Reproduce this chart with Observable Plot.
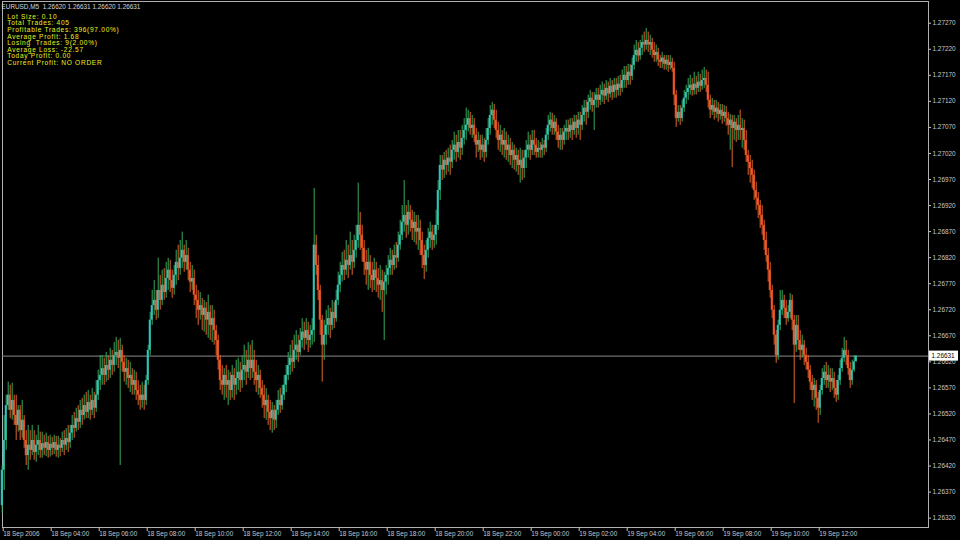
<!DOCTYPE html>
<html><head><meta charset="utf-8">
<script src="https://cdn.jsdelivr.net/npm/d3@7"></script>
<script src="https://cdn.jsdelivr.net/npm/@observablehq/plot@0.6"></script>
<style>html,body{margin:0;padding:0;background:#000;} #chart svg{display:block;}</style>
</head><body><div id="chart"></div>
<script>
// prices are stored as 1e-5 units above 1.26000 (EURUSD M5 bars)
const base = 1.26, unit = 0.00001;
const O = [
344,412,469,536,556,527,546,517,498,527,
488,508,469,440,460,450,469,446,460,469,
450,463,454,465,450,462,454,465,450,460,
454,469,460,473,465,483,498,492,511,504,
527,517,536,523,542,527,546,531,556,584,
594,607,594,613,604,623,613,632,638,627,
642,619,600,607,588,594,575,584,565,556,
546,556,546,584,642,700,728,738,719,757,
738,767,753,780,796,776,761,786,811,799,
819,834,811,824,796,773,780,748,738,719,
728,709,723,700,715,690,703,680,661,623,
584,575,594,575,584,565,594,575,588,600,
584,604,613,600,623,607,623,600,584,594,
569,556,536,546,523,511,527,508,527,546,
536,556,575,594,613,627,619,642,652,638,
661,677,665,680,661,671,680,844,805,757,
700,652,671,690,703,690,715,703,738,767,
786,805,796,815,805,824,811,834,853,882,
863,838,811,796,811,786,776,796,780,767,
776,757,773,786,799,815,805,824,819,844,
863,888,901,882,907,892,876,888,869,876,
853,824,805,834,857,869,853,863,882,949,
997,988,1007,997,1011,1003,1026,1036,1022,1041,
1030,1049,1064,1074,1087,1068,1074,1055,1036,1045,
1026,1036,1022,1045,1068,1093,1103,1084,1064,1045,
1055,1036,1045,1026,1036,1016,1026,1007,1016,997,
1007,991,1011,1026,1036,1026,1045,1036,1022,1030,
1026,1036,1030,1055,1074,1084,1068,1080,1061,1045,
1055,1045,1061,1068,1061,1074,1064,1080,1068,1084,
1074,1093,1107,1099,1118,1126,1112,1122,1132,1122,
1132,1141,1130,1145,1134,1149,1137,1151,1141,1153,
1145,1160,1170,1160,1176,1168,1189,1208,1218,1207,
1222,1233,1228,1237,1228,1233,1218,1208,1214,1199,
1195,1203,1191,1199,1189,1195,1183,1132,1087,1099,
1087,1107,1126,1137,1145,1151,1141,1153,1145,1157,
1149,1160,1164,1151,1122,1103,1112,1099,1107,1095,
1103,1091,1099,1087,1074,1084,1068,1080,1064,1074,
1064,1068,1045,1016,1003,991,978,949,934,920,
901,882,853,824,796,757,719,671,632,690,
719,738,723,703,715,738,700,652,690,661,
642,652,632,619,604,581,565,575,550,531,
565,588,600,584,594,581,588,569,556,584,
607,627,642,632,607,584,604,620];
const H = [
421,517,556,581,575,579,556,556,536,536,
546,517,488,498,488,498,488,479,498,485,
485,479,483,477,479,475,479,477,477,473,
485,488,492,498,498,517,523,531,536,546,
550,556,561,565,556,569,561,584,604,632,
632,627,638,632,646,642,657,667,661,665,
652,632,627,623,619,607,604,600,584,575,
581,575,594,652,715,757,776,757,819,786,
796,799,811,819,815,796,805,834,844,853,
869,844,853,838,811,805,796,767,757,753,
742,738,734,748,728,728,719,690,671,632,
613,607,613,604,600,613,607,623,627,619,
632,652,642,657,652,661,642,623,613,604,
584,575,569,556,546,542,536,546,565,569,
575,594,613,638,652,661,671,680,671,684,
703,696,703,696,690,703,953,863,824,767,
709,700,719,728,723,738,734,757,792,811,
830,834,853,844,869,853,863,882,963,907,
882,853,834,838,824,811,819,811,799,805,
796,792,805,824,838,834,844,849,869,892,
920,968,920,930,920,911,907,901,901,892,
869,844,853,876,888,882,882,911,968,1016,
1016,1022,1026,1030,1036,1045,1061,1055,1064,1064,
1074,1087,1107,1103,1099,1093,1087,1068,1061,1055,
1055,1049,1068,1087,1112,1118,1114,1103,1080,1074,
1064,1068,1061,1055,1049,1041,1036,1030,1026,1030,
1026,1026,1045,1061,1055,1064,1064,1049,1045,1041,
1049,1045,1068,1093,1099,1097,1093,1087,1074,1068,
1068,1074,1084,1084,1087,1087,1093,1093,1099,1099,
1112,1122,1122,1132,1141,1137,1137,1145,1145,1151,
1157,1153,1160,1157,1164,1160,1164,1164,1168,1170,
1180,1187,1187,1191,1191,1203,1228,1237,1233,1237,
1247,1253,1260,1253,1247,1241,1233,1228,1222,1208,
1214,1208,1208,1208,1208,1203,1195,1141,1112,1112,
1122,1141,1151,1164,1170,1164,1176,1168,1176,1172,
1180,1185,1180,1176,1132,1126,1122,1122,1118,1114,
1114,1112,1110,1099,1095,1093,1093,1087,1093,1103,
1087,1084,1064,1026,1016,1007,988,965,945,930,
920,892,869,838,811,767,728,680,700,757,
757,748,738,728,751,748,709,709,709,680,
671,661,646,632,613,594,588,584,561,575,
607,613,619,613,607,607,600,584,594,623,
646,667,661,642,619,623,632,631];
const L = [
329,373,450,527,511,508,498,469,485,469,
473,454,421,412,431,440,431,427,440,435,
435,440,438,435,437,440,442,437,435,438,
446,440,450,446,454,469,473,485,488,492,
498,508,511,511,508,517,511,523,546,565,
575,575,581,584,588,594,600,613,607,421,
600,581,575,569,561,556,556,546,536,527,
531,527,536,575,632,690,709,700,703,719,
728,738,742,757,753,742,748,767,776,786,
799,792,796,776,753,757,728,703,690,700,
680,677,671,665,661,657,652,632,604,565,
556,546,550,536,546,550,546,556,565,561,
569,584,575,588,584,588,575,561,556,550,
531,511,508,498,488,483,488,492,517,521,
527,546,561,584,594,600,607,623,619,632,
646,642,652,638,646,652,657,786,738,671,
581,623,652,671,665,680,684,696,728,753,
773,776,786,780,796,786,799,819,838,834,
811,786,767,757,761,753,757,753,742,738,
715,661,748,767,786,786,796,799,811,834,
853,869,857,863,869,853,849,844,834,824,
799,778,792,819,838,834,838,844,872,930,
968,972,978,984,978,991,1007,1003,1011,1007,
1016,1036,1045,1061,1055,1049,1041,1011,1022,1007,
1011,1003,1011,1036,1055,1074,1068,1049,1026,1022,
1016,1011,1007,1003,997,991,988,984,978,963,
968,972,991,1011,1007,1016,1016,1011,1011,1011,
1011,1016,1022,1045,1061,1055,1055,1045,1030,1026,
1026,1036,1045,1045,1049,1045,1055,1049,1055,1045,
1064,1080,1074,1087,1103,1099,1064,1107,1107,1112,
1118,1114,1122,1118,1126,1122,1126,1126,1130,1130,
1137,1145,1145,1151,1151,1160,1180,1195,1195,1199,
1208,1214,1218,1214,1208,1203,1195,1195,1187,1183,
1183,1180,1180,1176,1180,1176,1112,1070,1080,1074,
1080,1099,1114,1122,1132,1130,1132,1132,1137,1137,
1141,1145,1137,1107,1087,1093,1084,1087,1080,1084,
1076,1080,1072,1055,1026,993,1045,1041,1045,1045,
1030,1026,1003,978,963,953,930,911,895,876,
863,834,811,773,742,703,652,617,623,680,
709,703,690,696,703,680,540,638,642,623,
627,613,604,588,565,546,533,527,502,517,
556,575,569,569,561,565,550,542,546,575,
600,619,613,594,569,575,600,620];
const C = [
412,469,536,556,527,546,517,498,527,488,
508,469,440,460,450,469,446,460,469,450,
463,454,465,450,462,454,465,450,460,454,
469,460,473,465,483,498,492,511,504,527,
517,536,523,542,527,546,531,556,584,594,
607,594,613,604,623,613,632,638,627,642,
619,600,607,588,594,575,584,565,556,546,
556,546,584,642,700,728,738,719,757,738,
767,753,780,796,776,761,786,811,799,819,
834,811,824,796,773,780,748,738,719,728,
709,723,700,715,690,703,680,661,623,584,
575,594,575,584,565,594,575,588,600,584,
604,613,600,623,607,623,600,584,594,569,
556,536,546,523,511,527,508,527,546,536,
556,575,594,613,627,619,642,652,638,661,
677,665,680,661,671,680,844,805,757,700,
652,671,690,703,690,715,703,738,767,786,
805,796,815,805,824,811,834,853,882,863,
838,811,796,811,786,776,796,780,767,776,
757,773,786,799,815,805,824,819,844,863,
888,901,882,907,892,876,888,869,876,853,
824,805,834,857,869,853,863,882,949,997,
988,1007,997,1011,1003,1026,1036,1022,1041,1030,
1049,1064,1074,1087,1068,1074,1055,1036,1045,1026,
1036,1022,1045,1068,1093,1103,1084,1064,1045,1055,
1036,1045,1026,1036,1016,1026,1007,1016,997,1007,
991,1011,1026,1036,1026,1045,1036,1022,1030,1026,
1036,1030,1055,1074,1084,1068,1080,1061,1045,1055,
1045,1061,1068,1061,1074,1064,1080,1068,1084,1074,
1093,1107,1099,1118,1126,1112,1122,1132,1122,1132,
1141,1130,1145,1134,1149,1137,1151,1141,1153,1145,
1160,1170,1160,1176,1168,1189,1208,1218,1207,1222,
1233,1228,1237,1228,1233,1218,1208,1214,1199,1195,
1203,1191,1199,1189,1195,1183,1132,1087,1099,1087,
1107,1126,1137,1145,1151,1141,1153,1145,1157,1149,
1160,1164,1151,1122,1103,1112,1099,1107,1095,1103,
1091,1099,1087,1074,1084,1068,1080,1064,1074,1064,
1068,1045,1016,1003,991,978,949,934,920,901,
882,853,824,796,757,719,671,632,690,719,
738,723,703,715,738,700,652,690,661,642,
652,632,619,604,581,565,575,550,531,565,
588,600,584,594,581,588,569,556,584,607,
627,642,632,607,584,604,620,631];

const xLabels = ["18 Sep 2006","18 Sep 04:00","18 Sep 06:00","18 Sep 08:00","18 Sep 10:00","18 Sep 12:00",
  "18 Sep 14:00","18 Sep 16:00","18 Sep 18:00","18 Sep 20:00","18 Sep 22:00","19 Sep 00:00",
  "19 Sep 02:00","19 Sep 04:00","19 Sep 06:00","19 Sep 08:00","19 Sep 10:00","19 Sep 12:00"];
const barsPerLabel = 24; // one label every 2 hours of 5-minute bars
const yTicks = [1.2632,1.2637,1.2642,1.2647,1.2652,1.2657,1.2662,1.2667,1.2672,1.2677,
  1.2682,1.2687,1.2692,1.2697,1.2702,1.2707,1.2712,1.2717,1.2722,1.2727];
const header = "EURUSD,M5  1.26620 1.26631 1.26620 1.26631";
const infoLines = ["Lot Size: 0.10","Total Trades: 405","Profitable Trades: 396(97.00%)","Average Profit: 1.68",
  "Losing  Trades: 9(2.00%)","Average Loss: -22.57","Today Profit: 0.00","Current Profit: NO ORDER"];
const lastPrice = 1.26631;

const n = Math.min(O.length, H.length, L.length, C.length);
const bars = [];
for (let i = 0; i < n; i++) {
  bars.push({i, o: base + O[i]*unit, h: base + H[i]*unit, l: base + L[i]*unit, c: base + C[i]*unit, up: C[i] >= O[i]});
}
const xTicks = xLabels.map((_, k) => k * barsPerLabel);
const fmt5 = d3.format(".5f");
const FONT = "'Liberation Sans', Arial, sans-serif";
const INFO_COLOR = "#f0f020";

function priceLabel(index, scales, values, dimensions) {
  const y = scales.y(lastPrice);
  const x0 = dimensions.width - dimensions.marginRight + 1;
  const g = d3.create("svg:g");
  g.append("rect").attr("x", x0).attr("y", y - 5).attr("width", 29).attr("height", 10).attr("fill", "#ffffff");
  g.append("text").attr("x", x0 + 2.5).attr("y", y).attr("dy", "0.35em").attr("fill", "#000")
    .attr("text-anchor", "start").style("text-anchor", "start")
    .attr("font-size", 6.4).attr("font-family", FONT).text(fmt5(lastPrice));
  return g.node();
}

const chart = Plot.plot({
  width: 960, height: 540,
  marginLeft: 2, marginRight: 32, marginTop: 1, marginBottom: 13,
  style: {background: "#000", color: "#c8c8c8", fontFamily: FONT, fontSize: "6.4px", whiteSpace: "pre"},
  x: {type: "linear", domain: [0.15, 463.15], axis: null},
  y: {domain: [1.26302, 1.273117], axis: null},
  color: {type: "identity"},
  marks: [
    Plot.frame({stroke: "#b0b0b0"}),
    Plot.ruleY([lastPrice], {stroke: "#8c8c8c", strokeWidth: 1}),
    Plot.ruleX(bars, {x: "i", y1: "l", y2: "h", stroke: d => d.up ? "#38a85a" : "#e0642c", strokeWidth: 1}),
    Plot.rect(bars, {x1: d => d.i - 0.48, x2: d => d.i + 0.48, y1: "o", y2: "c", fill: d => d.up ? "#26c6c9" : "#ff5220"}),
    Plot.axisY(yTicks, {anchor: "right", tickSize: 2, tickPadding: 2, tickFormat: fmt5, label: null, color: "#c8c8c8"}),
    Plot.axisX(xTicks, {anchor: "bottom", tickSize: 4, tickPadding: 0, tickFormat: d => xLabels[xTicks.indexOf(d)],
      textAnchor: "start", dx: 1, label: null, color: "#c8c8c8"}),
    Plot.text([header], {text: d => d, frameAnchor: "top-left", textAnchor: "start", lineAnchor: "top",
      dx: -1, dy: 2.5, fill: "#d8d8d8", fontSize: 6.4}),
    Plot.text([infoLines.join("\n")], {text: d => d, frameAnchor: "top-left", textAnchor: "start", lineAnchor: "top",
      dx: 4.7, dy: 12.6, fill: INFO_COLOR, fontSize: 6.6, lineHeight: 1.0}),
    priceLabel
  ]
});
// widen the info block's lettering to the reference's width
chart.querySelectorAll(`g[fill="${INFO_COLOR}"] text, text[fill="${INFO_COLOR}"]`).forEach(t => {
  t.style.letterSpacing = "0.7px";
});
document.getElementById("chart").appendChild(chart);
</script>
</body></html>
